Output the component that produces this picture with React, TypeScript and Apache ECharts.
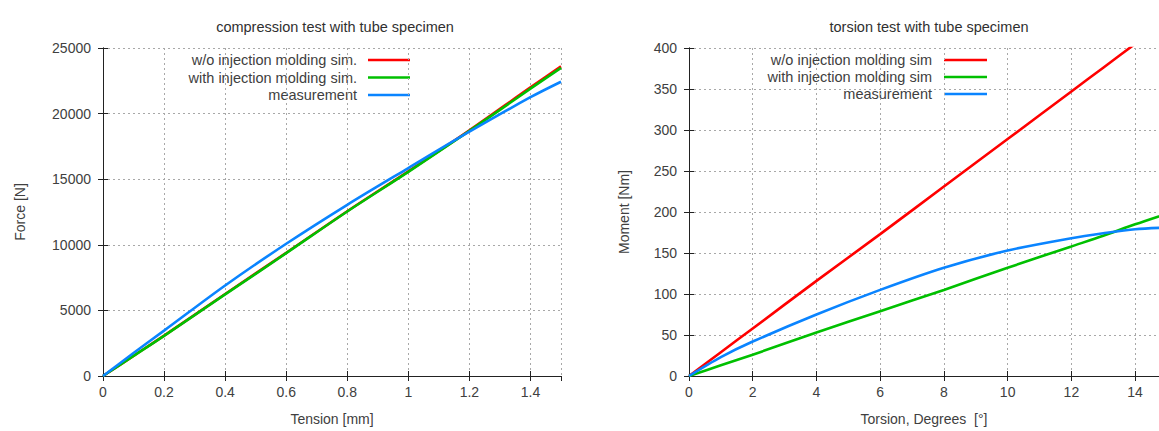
import React, { useEffect, useRef } from "react";
import * as echarts from "echarts";

// ---- compression test data ----
const compressionX = [0, 0.1, 0.2, 0.4, 0.6, 0.8, 1.0, 1.2, 1.4, 1.5];
const compressionWithout = [0, 1540, 3080, 6250, 9390, 12560, 15600, 18720, 22000, 23600];
const compressionWith = [0, 1530, 3060, 6220, 9360, 12540, 15560, 18680, 21900, 23480];
const compressionMeasured = [0, 1750, 3460, 6900, 10080, 13050, 15850, 18620, 21250, 22430];

// ---- torsion test data ----
const torsionX = [0, 1, 2, 4, 6, 8, 10, 12, 13, 14, 15];
const torsionWithout = [0, 29, 58, 116, 173, 231, 289, 347, 376, 405, 434];
const torsionWith = [0, 13, 26, 53, 79, 105, 132, 158, 171, 185, 198];
const torsionMeasured = [0, 23, 42, 75, 105, 132, 153, 168, 174, 179, 181];

const seriesNames = [
  "w/o injection molding sim.",
  "with injection molding sim.",
  "measurement",
];
const seriesNamesRight = [
  "w/o injection molding sim",
  "with injection molding sim",
  "measurement",
];
const colors = ["#ff0000", "#00c000", "#0a84ff"];

const FONT = "'Liberation Sans', Arial, sans-serif";
const TXT = "#404040";

function zip(xs: number[], ys: number[]) {
  return xs.map((x, i) => [x, ys[i]]);
}

export default function App() {
  const ref = useRef<HTMLDivElement>(null);
  useEffect(() => {
    if (!ref.current) return;
    const chart = echarts.init(ref.current, null, { renderer: "svg" });

    const grids = [
      { left: 103, top: 48, right: 598, bottom: 49 },
      { left: 689, top: 48, right: 0, bottom: 49 },
    ];

    const splitLine = {
      show: true,
      lineStyle: { color: "#a8a8a8", type: [2, 3] as any, width: 1 },
    };
    const axisLine = { show: true, lineStyle: { color: "#222", width: 1 } };
    const tick = { show: true, inside: true, length: 5, lineStyle: { color: "#222" } };
    const label = { color: TXT, fontSize: 14, fontFamily: FONT };

    const mainX = (gi: number, max: number, interval: number, name: string) => ({
      type: "value",
      gridIndex: gi,
      min: 0,
      max,
      interval,
      position: "bottom",
      name,
      nameLocation: "middle",
      nameGap: 36,
      nameTextStyle: { color: TXT, fontSize: 14, fontFamily: FONT },
      axisLine,
      axisTick: tick,
      axisLabel: {
        ...label,
        margin: 9,
        showMaxLabel: false,
        formatter: (v: number) => String(v),
      },
      splitLine,
    });
    const mirrorX = (gi: number, max: number, interval: number) => ({
      type: "value",
      gridIndex: gi,
      min: 0,
      max,
      interval,
      position: "top",
      axisLine,
      axisTick: tick,
      axisLabel: { show: false },
      splitLine: { show: false },
    });
    const mainY = (gi: number, max: number, interval: number, name: string, gap: number) => ({
      type: "value",
      gridIndex: gi,
      min: 0,
      max,
      interval,
      position: "left",
      name,
      nameLocation: "middle",
      nameGap: gap,
      nameTextStyle: { color: TXT, fontSize: 14, fontFamily: FONT },
      axisLine,
      axisTick: tick,
      axisLabel: { ...label, margin: 12, formatter: (v: number) => String(v) },
      splitLine,
    });
    const mirrorY = (gi: number, max: number, interval: number) => ({
      type: "value",
      gridIndex: gi,
      min: 0,
      max,
      interval,
      position: "right",
      axisLine,
      axisTick: tick,
      axisLabel: { show: false },
      splitLine: { show: false },
    });

    const line = (name: string, color: string, data: number[][], xi: number, yi: number) => ({
      type: "line",
      name,
      data,
      xAxisIndex: xi,
      yAxisIndex: yi,
      showSymbol: false,
      symbol: "none",
      smooth: 0.3,
      lineStyle: { color, width: 2.6 },
      itemStyle: { color },
      clip: true,
    });

    const legendGraphic = (names: string[], textRight: number, lineLeft: number, lineRight: number, ys: number[]) => {
      const els: any[] = [];
      names.forEach((n, i) => {
        els.push({
          type: "text",
          x: textRight,
          y: ys[i],
          style: {
            text: n,
            align: "right",
            verticalAlign: "middle",
            fill: TXT,
            fontSize: 14.5,
            fontFamily: FONT,
          },
        });
        els.push({
          type: "line",
          shape: { x1: lineLeft, y1: ys[i], x2: lineRight, y2: ys[i] },
          style: { stroke: colors[i], lineWidth: 2.6 },
        });
      });
      return els;
    };

    chart.setOption({
      animation: false,
      backgroundColor: "#ffffff",
      title: [
        {
          text: "compression test with tube specimen",
          left: 330,
          top: 14,
          textAlign: "center",
          textStyle: { color: "#303030", fontSize: 14.5, fontWeight: "normal", fontFamily: FONT },
        },
        {
          text: "torsion test with tube specimen",
          left: 924,
          top: 14,
          textAlign: "center",
          textStyle: { color: "#303030", fontSize: 14.5, fontWeight: "normal", fontFamily: FONT },
        },
      ],
      grid: grids,
      xAxis: [
        mainX(0, 1.5, 0.2, "Tension [mm]"),
        mirrorX(0, 1.5, 0.2),
        mainX(1, 14.75, 2, "Torsion, Degrees  [°]"),
        mirrorX(1, 14.75, 2),
      ],
      yAxis: [
        mainY(0, 25000, 5000, "Force [N]", 76),
        mirrorY(0, 25000, 5000),
        mainY(1, 400, 50, "Moment [Nm]", 58),
        mirrorY(1, 400, 50),
      ],
      series: [
        line(seriesNames[0], colors[0], zip(compressionX, compressionWithout), 0, 0),
        line(seriesNames[1], colors[1], zip(compressionX, compressionWith), 0, 0),
        line(seriesNames[2], colors[2], zip(compressionX, compressionMeasured), 0, 0),
        line(seriesNamesRight[0], colors[0], zip(torsionX, torsionWithout), 2, 2),
        line(seriesNamesRight[1], colors[1], zip(torsionX, torsionWith), 2, 2),
        line(seriesNamesRight[2], colors[2], zip(torsionX, torsionMeasured), 2, 2),
      ],
      graphic: [
        ...legendGraphic(seriesNames, 357, 368, 410, [60, 77.5, 95]),
        ...legendGraphic(seriesNamesRight, 932, 944, 987, [60, 77, 94]),
      ],
    });
    return () => chart.dispose();
  }, []);

  return (
    <div
      ref={ref}
      style={{ position: "absolute", left: 0, top: 0, width: 1159, height: 431, overflow: "hidden" }}
    />
  );
}
